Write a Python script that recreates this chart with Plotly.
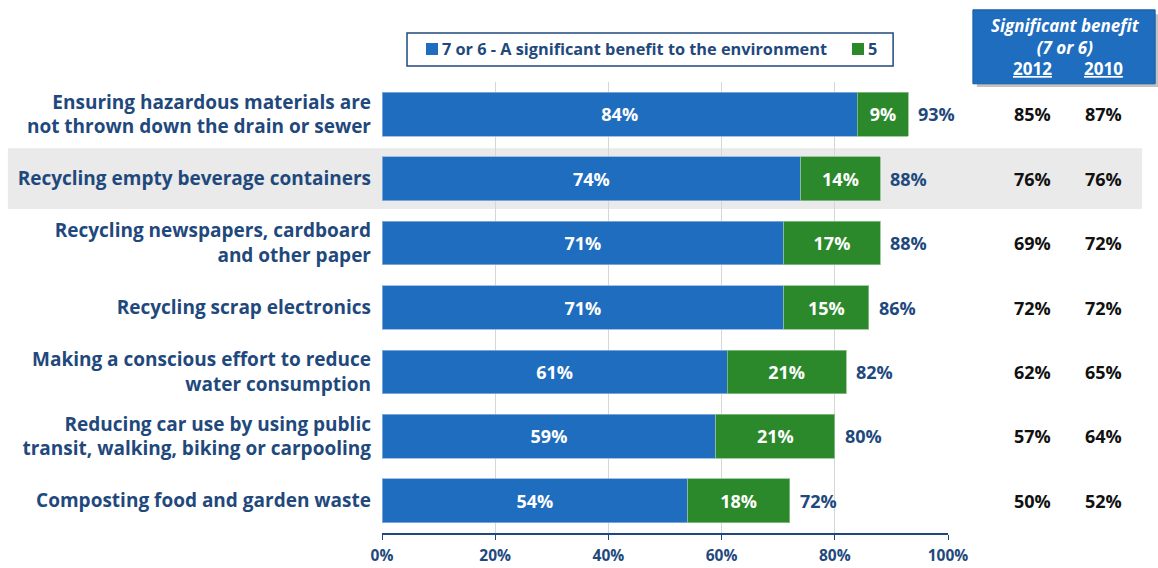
import plotly.graph_objects as go

# Survey items (top to bottom)
categories = [
    "Ensuring hazardous materials are<br>not thrown down the drain or sewer",
    "Recycling empty beverage containers",
    "Recycling newspapers, cardboard<br>and other paper",
    "Recycling scrap electronics",
    "Making a conscious effort to reduce<br>water consumption",
    "Reducing car use by using public<br>transit, walking, biking or carpooling",
    "Composting food and garden waste",
]
significant = [84, 74, 71, 71, 61, 59, 54]   # 7 or 6
five = [9, 14, 17, 15, 21, 21, 18]           # 5
totals = [93, 88, 88, 86, 82, 80, 72]
sig_2012 = [85, 76, 69, 72, 62, 57, 50]
sig_2010 = [87, 76, 72, 72, 65, 64, 52]
x_ticks = [0, 20, 40, 60, 80, 100]
x_tick_labels = ["0%", "20%", "40%", "60%", "80%", "100%"]
legend_names = ["7 or 6 - A significant benefit to the environment", "5"]

BLUE = "#1F6DBE"
GREEN = "#2B892B"
NAVY = "#1F497D"
FONT = "Open Sans"

fig = go.Figure()
fig.add_trace(go.Bar(
    y=categories, x=significant, orientation="h", name=legend_names[0],
    marker=dict(color=BLUE, line=dict(color="#8FB3DE", width=0.8)),
    text=[f"{v}%" for v in significant], textposition="inside",
    insidetextanchor="middle",
    textfont=dict(color="white", size=18, family=FONT, weight="bold"),
    hoverinfo="skip", showlegend=False,
))
fig.add_trace(go.Bar(
    y=categories, x=five, orientation="h", name=legend_names[1],
    marker=dict(color=GREEN, line=dict(color="#8CC08C", width=0.8)),
    text=[f"{v}%" for v in five], textposition="inside",
    insidetextanchor="middle",
    textfont=dict(color="white", size=18, family=FONT, weight="bold"),
    hoverinfo="skip", showlegend=False,
))

# Totals at the end of each bar
for cat, tot in zip(categories, totals):
    fig.add_annotation(x=tot, y=cat, xref="x", yref="y", text=f"{tot}%",
                       showarrow=False, xanchor="left", xshift=8,
                       font=dict(color=NAVY, size=18, family=FONT, weight="bold"))

# Right-hand comparison columns
COL_2012, COL_2010 = 1.150, 1.274
for cat, a, b in zip(categories, sig_2012, sig_2010):
    fig.add_annotation(x=COL_2012, y=cat, xref="paper", yref="y", text=f"{a}%",
                       showarrow=False, xanchor="center",
                       font=dict(color="#111111", size=18, family=FONT, weight="bold"))
    fig.add_annotation(x=COL_2010, y=cat, xref="paper", yref="y", text=f"{b}%",
                       showarrow=False, xanchor="center",
                       font=dict(color="#111111", size=18, family=FONT, weight="bold"))

# Shaded highlight row
fig.add_shape(type="rect", xref="paper", yref="y", x0=-0.661, x1=1.343,
              y0=1 - 0.47, y1=1 + 0.47, fillcolor="#EAEAEA",
              line=dict(width=0), layer="below")

# Header box with shadow
fig.add_shape(type="rect", xref="paper", yref="paper", x0=1.051, x1=1.373,
              y0=0.989, y1=1.150, fillcolor="#9A9A9A", line=dict(width=0), opacity=0.6)
fig.add_shape(type="rect", xref="paper", yref="paper", x0=1.044, x1=1.366,
              y0=0.996, y1=1.160, fillcolor=BLUE, line=dict(color="#1A5CA3", width=1))
hdr_font = dict(color="white", size=17, family=FONT, weight="bold")
fig.add_annotation(x=1.207, y=1.101, xref="paper", yref="paper", xanchor="center",
                   yanchor="middle", align="center",
                   text="<i>Significant benefit<br>(7 or 6)</i>",
                   showarrow=False, font=hdr_font)
fig.add_annotation(x=COL_2012, y=1.031, xref="paper", yref="paper", xanchor="center",
                   yanchor="middle", text="<u>2012</u>", showarrow=False, font=hdr_font)
fig.add_annotation(x=COL_2010, y=1.031, xref="paper", yref="paper", xanchor="center",
                   yanchor="middle", text="<u>2010</u>", showarrow=False, font=hdr_font)

# Legend box
fig.add_shape(type="rect", xref="paper", yref="paper", x0=0.0442, x1=0.903,
              y0=1.0355, y1=1.1086, fillcolor="white", line=dict(color=NAVY, width=1.5))
for (sx0, sx1, tx, col, name) in [
    (0.0777, 0.0989, 0.1025, BLUE, legend_names[0]),
    (0.8304, 0.8516, 0.8550, GREEN, legend_names[1]),
]:
    fig.add_shape(type="rect", xref="paper", yref="paper", x0=sx0, x1=sx1,
                  y0=1.0599, y1=1.0865, fillcolor=col, line=dict(width=0))
    fig.add_annotation(x=tx, y=1.0732, xref="paper", yref="paper", xanchor="left",
                       yanchor="middle", text=name, showarrow=False,
                       font=dict(color=NAVY, size=16.3, family=FONT, weight="bold"))

fig.update_layout(
    barmode="stack", bargap=0.32,
    width=1158, height=568,
    margin=dict(l=382, r=210, t=82, b=35),
    paper_bgcolor="white", plot_bgcolor="rgba(0,0,0,0)",
    font=dict(family=FONT, color=NAVY),
    showlegend=False,
)
fig.update_xaxes(range=[0, 100], tickvals=x_ticks, ticktext=x_tick_labels,
                 showgrid=True, gridcolor="#D6D6D6", gridwidth=1,
                 zeroline=False, showline=True, linecolor=NAVY, linewidth=1.5,
                 ticks="outside", ticklen=5, tickcolor=NAVY,
                 ticklabelstandoff=3, automargin=False,
                 tickfont=dict(size=15.5, color=NAVY, family=FONT, weight="bold"),
                 fixedrange=True)
fig.update_yaxes(autorange="reversed", showgrid=False, showline=False,
                 ticks="", ticklabelstandoff=10, automargin=False,
                 tickfont=dict(size=19, color=NAVY, family=FONT, weight="bold"),
                 fixedrange=True)

fig.write_html("out.html")
